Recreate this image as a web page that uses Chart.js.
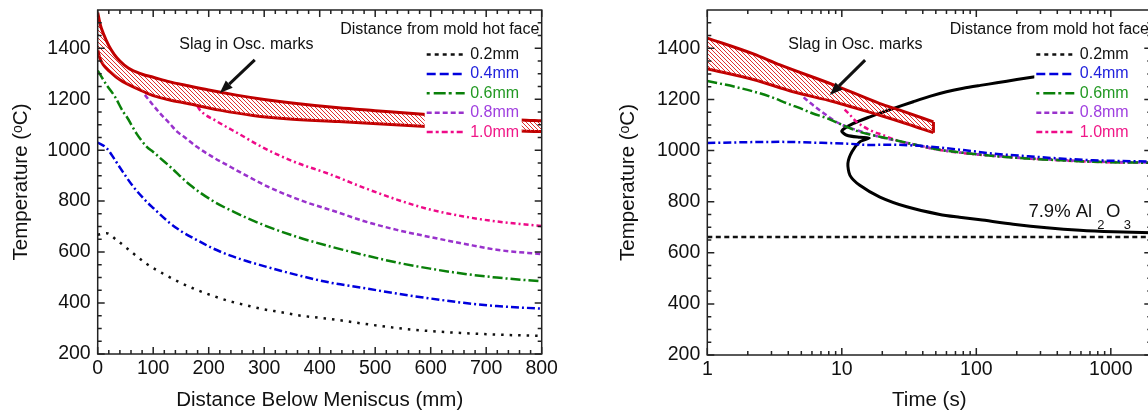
<!DOCTYPE html>
<html>
<head>
<meta charset="UTF-8">
<title>Mold flux temperature</title>
<style>
  html, body { margin: 0; padding: 0; background: #fff; overflow: hidden; }
  #wrap { position: relative; width: 1148px; height: 412px; }
  canvas { position: absolute; top: 0; }
  #left { left: 0; }
  #right { left: 574px; }
</style>
</head>
<body>
<div id="wrap">
  <canvas id="left" width="574" height="412"></canvas>
  <canvas id="right" width="580" height="412"></canvas>
</div>
<script src="https://cdn.jsdelivr.net/npm/chart.js"></script>
<script>
// ------------------------------ data ------------------------------
const seriesNames = ['0.2mm', '0.4mm', '0.6mm', '0.8mm', '1.0mm'];

// left: temperature vs distance below meniscus (mm)
const dist02 = [[0,668],[16,674],[32,651],[60,602],[88,554],[118,515],[148,481],[178,452],[208,428],[238,407],[268,391],[298,376],[331,364],[361,352],[400,342],[431,334],[479,319],[539,302],[599,290],[659,282],[719,276],[800,271]];
const dist04 = [[0,1030],[16,1008],[31,962],[40,932],[64,857],[88,798],[100,773],[130,714],[151,681],[178,648],[208,614],[238,587],[268,565],[298,546],[331,526],[361,509],[419,480],[479,459],[539,437],[599,418],[659,401],[719,388],[800,378]];
const dist06 = [[0,1312],[16,1256],[31,1210],[46,1150],[52,1132],[70,1065],[88,1014],[100,993],[112,970],[130,936],[166,864],[208,800],[250,753],[298,707],[357,661],[419,622],[479,589],[539,559],[599,535],[659,515],[719,500],[800,485]];
const dist08 = [[85,1217],[97,1184],[112,1145],[130,1104],[142,1075],[160,1045],[178,1014],[208,972],[232,943],[268,900],[310,853],[370,800],[434,755],[479,722],[539,687],[599,659],[659,633],[719,609],[800,592]];
const dist10 = [[180,1172],[184,1158],[214,1114],[256,1062],[298,1010],[352,956],[419,905],[479,853],[539,806],[599,767],[659,740],[719,720],[800,702]];
const slagDistTop = [[0,1540],[5,1490],[10,1459],[20,1410],[30,1375],[40,1350],[55,1322],[80,1298],[100,1286],[130,1268],[160,1254],[200,1236],[250,1216],[300,1199],[350,1185],[434,1166],[500,1155],[592,1140],[680,1128],[761,1118],[800,1115]];
const slagDistBottom = [[0,1393],[4,1361],[10,1335],[22,1308],[40,1276],[76,1236],[100,1214],[130,1197],[160,1184],[220,1157],[280,1136],[340,1123],[434,1112],[592,1093],[680,1083],[761,1075],[800,1073]];

// right: temperature vs time (s)
const time02 = [[1,662],[2000,662]];
const time04 = [[1,1030],[3.5,1034],[6,1031],[11,1027],[16,1022],[23,1023],[34,1020],[53,1012],[80,1002],[134,988],[237,978],[418,969],[741,962],[2000,957]];
const time06 = [[1,1272],[1.65,1248],[2.9,1212],[3.9,1185],[5.2,1160],[6.1,1145],[7.7,1127],[10.2,1099],[13.6,1073],[19.2,1054],[27,1037],[38,1019],[53.5,1003],[80,991],[134,979],[237,969],[418,962],[741,956],[2000,952]];
const time08 = [[5.2,1208],[6.1,1178],[7.3,1147],[8.6,1120],[10.2,1099],[12.9,1080],[16.2,1064],[20.3,1050],[27,1036],[38,1019],[53.5,1003],[80,991],[134,980],[237,970],[418,963],[741,957],[2000,953]];
const time10 = [[10.5,1160],[11.2,1146],[12.9,1112],[16.2,1080],[20.3,1060],[27,1036],[38,1018],[53.5,1002],[80,990],[134,979],[237,969],[418,962],[741,956],[2000,952]];
const slagTimeTop = [[1,1440],[2.2,1378],[3.47,1335],[8.6,1258],[19.2,1184],[27,1158],[48,1112]];
const slagTimeBottom = [[1,1320],[2.2,1278],[4.36,1230],[8.6,1192],[19.2,1138],[30,1106],[48,1070]];
const slagTimeEnd = [[48,1070],[48,1112]];
const alumina = [[281,1290],[200,1278],[142,1265],[107,1255],[80,1244],[60,1230],[45,1212],[34,1191],[22.8,1160],[16.2,1132],[12.2,1106],[10.0,1077],[10.9,1060],[13.6,1052],[16,1049],[13.6,1034],[11.9,995],[11.1,950],[11.5,903],[13.6,864],[19.2,818],[30.4,780],[53.5,750],[75,739],[107,729],[188,712],[334,698],[589,688],[1050,682],[2000,678]];

// axis ticks
const tempMajor = [200, 400, 600, 800, 1000, 1200, 1400];
const distMajor = [0, 100, 200, 300, 400, 500, 600, 700, 800];
const timeMajor = [1, 10, 100, 1000];
const tempMinor = [], distMinor = [], timeMinor = [];
for (let v = 250; v <= 1500; v += 50) if (v % 200) tempMinor.push(v);
for (let v = 20; v < 800; v += 20) if (v % 100) distMinor.push(v);
[1, 10, 100, 1000].forEach(d => { for (let k = 2; k <= 9; k++) if (d * k <= 2000) timeMinor.push(d * k); });

// ------------------------------ styles ------------------------------
const FONT = '"Liberation Sans", Arial, "DejaVu Sans", sans-serif';
Chart.defaults.font.family = FONT;
Chart.defaults.color = '#111';

const lineColors = ['#111111', '#0000dd', '#0a800a', '#9932cc', '#ee0a88'];
const textColors = ['#111111', '#2222dd', '#229922', '#a040e0', '#f01888'];
const lineDashes = [[2.5, 6], [8, 3, 2, 3], [10, 3, 2, 3], [5, 3], [5, 3, 2, 3]];
const legendDashes = [[4, 4], [9, 4], [3, 4, 12, 3], [5, 3], [6, 3, 3, 3]];
const slagRed = '#c00000';

function hatch() {
  const c = document.createElement('canvas');
  c.width = 4; c.height = 4;
  const g = c.getContext('2d');
  g.strokeStyle = '#e03030';
  g.lineWidth = 1;
  g.beginPath();
  g.moveTo(-1, -1); g.lineTo(5, 5);
  g.moveTo(-1, 3); g.lineTo(1, 5);
  g.moveTo(3, -1); g.lineTo(5, 1);
  g.stroke();
  return g.createPattern(c, 'repeat');
}

const pts = arr => arr.map(p => ({x: p[0], y: p[1]}));

function curve(i, arr, dash) {
  return {
    label: seriesNames[i], data: pts(arr), showLine: true, pointRadius: 0,
    borderColor: lineColors[i], borderWidth: 2.5, borderDash: dash || lineDashes[i],
    cubicInterpolationMode: 'monotone', fill: false
  };
}

function bandEdge(arr, fillNext) {
  return {
    label: 'slag', data: pts(arr), showLine: true, pointRadius: 0,
    borderColor: slagRed, borderWidth: 3, cubicInterpolationMode: 'monotone',
    fill: fillNext ? '+1' : false, backgroundColor: fillNext ? hatch() : 'transparent'
  };
}

// keep the plot box where the layout padding puts it
function noPad(s) {
  s.paddingTop = 0; s.paddingBottom = 0; s.paddingLeft = 0; s.paddingRight = 0;
}

// ------------------------------ plugins ------------------------------
// inward tick marks on all four sides plus the box around the plot
const framePlugin = {
  id: 'frame',
  afterDraw(chart, args, o) {
    const {ctx, chartArea: a, scales} = chart;
    ctx.save();
    ctx.strokeStyle = '#222';
    ctx.lineWidth = 1.5;
    const marks = (scale, values, len) => values.forEach(v => {
      const p = scale.getPixelForValue(v);
      ctx.beginPath();
      if (scale.isHorizontal()) {
        ctx.moveTo(p, a.bottom); ctx.lineTo(p, a.bottom - len);
        ctx.moveTo(p, a.top); ctx.lineTo(p, a.top + len);
      } else {
        ctx.moveTo(a.left, p); ctx.lineTo(a.left + len, p);
        ctx.moveTo(a.right, p); ctx.lineTo(a.right - len, p);
      }
      ctx.stroke();
    });
    marks(scales.x, o.xMajor, 7);
    marks(scales.x, o.xMinor, 4);
    marks(scales.y, tempMajor, 7);
    marks(scales.y, tempMinor, 4);
    ctx.strokeRect(a.left, a.top, a.right - a.left, a.bottom - a.top);
    ctx.restore();
  }
};

function arrow(ctx, x1, y1, x2, y2) {
  const ang = Math.atan2(y2 - y1, x2 - x1);
  const head = 13, half = 5;
  const bx = x2 - head * Math.cos(ang), by = y2 - head * Math.sin(ang);
  ctx.lineWidth = 3;
  ctx.beginPath(); ctx.moveTo(x1, y1); ctx.lineTo(bx, by); ctx.stroke();
  ctx.beginPath();
  ctx.moveTo(x2, y2);
  ctx.lineTo(bx + half * Math.sin(ang), by - half * Math.cos(ang));
  ctx.lineTo(bx - half * Math.sin(ang), by + half * Math.cos(ang));
  ctx.closePath(); ctx.fill();
}

// legend box, slag label with arrow, and the Al2O3 curve label
const notesPlugin = {
  id: 'notes',
  afterDatasetsDraw(chart, args, o) {
    const {ctx, chartArea: a, scales: {x, y}} = chart;
    const R = a.right;
    ctx.save();
    ctx.fillStyle = '#fff';
    ctx.fillRect(R - 117, a.top + 34, 97, 98);
    ctx.textBaseline = 'middle';
    ctx.font = '16px ' + FONT;
    ctx.fillStyle = '#111';
    ctx.fillText('Distance from mold hot face', R - 201.5, a.top + 20);
    seriesNames.forEach((name, i) => {
      const yy = a.top + 44.5 + i * 19.4;
      ctx.strokeStyle = lineColors[i];
      ctx.lineWidth = 2.5;
      ctx.setLineDash(legendDashes[i]);
      ctx.beginPath(); ctx.moveTo(R - 115, yy); ctx.lineTo(R - 77, yy); ctx.stroke();
      ctx.setLineDash([]);
      ctx.fillStyle = textColors[i];
      ctx.fillText(name, R - 71.5, yy);
    });

    ctx.fillStyle = '#111';
    ctx.strokeStyle = '#111';
    ctx.fillText('Slag in Osc. marks', x.getPixelForValue(o.slagText[0]), y.getPixelForValue(o.slagText[1]));
    arrow(ctx, x.getPixelForValue(o.arrowFrom[0]), y.getPixelForValue(o.arrowFrom[1]),
      x.getPixelForValue(o.arrowTo[0]), y.getPixelForValue(o.arrowTo[1]));

    if (o.alText) {
      let px = x.getPixelForValue(o.alText[0]);
      const py = y.getPixelForValue(o.alText[1]);
      ctx.textBaseline = 'alphabetic';
      const big = '18.5px ' + FONT, small = '13px ' + FONT;
      ctx.font = big; ctx.fillText('7.9% Al', px, py); px += ctx.measureText('7.9% Al').width + 5;
      ctx.font = small; ctx.fillText('2', px, py + 11.5); px += ctx.measureText('2').width + 1.5;
      ctx.font = big; ctx.fillText('O', px, py); px += ctx.measureText('O').width + 3.5;
      ctx.font = small; ctx.fillText('3', px, py + 11.5);
    }
    ctx.restore();
  }
};

// ------------------------------ charts ------------------------------
const axisTitleFont = {size: 20.5, lineHeight: 1.1};

function tempAxis(width, titlePad) {
  return {
    type: 'linear', min: 200, max: 1550,
    afterFit: s => { s.width = width; noPad(s); },
    ticks: {
      stepSize: 200, includeBounds: false, padding: 7,
      font: {size: 19.5}, color: '#111',
      callback: v => String(v)
    },
    grid: {display: false, drawTicks: false},
    border: {display: false},
    title: {display: true, text: 'Temperature (ᵒC)', font: {size: 20.5}, color: '#111', padding: {top: titlePad}}
  };
}

const leftChart = new Chart(document.getElementById('left'), {
  type: 'scatter',
  data: {
    datasets: [
      bandEdge(slagDistTop, true),
      bandEdge(slagDistBottom, false),
      curve(0, dist02), curve(1, dist04), curve(2, dist06), curve(3, dist08), curve(4, dist10)
    ]
  },
  options: {
    responsive: false, animation: false, devicePixelRatio: 1,
    layout: {padding: {left: 0, right: 32.3, top: 10, bottom: 0}},
    plugins: {
      legend: {display: false}, tooltip: {enabled: false},
      frame: {xMajor: distMajor, xMinor: distMinor},
      notes: {slagText: [147, 1413], arrowFrom: [283, 1354], arrowTo: [220, 1224]}
    },
    scales: {
      x: {
        type: 'linear', min: 0, max: 800,
        afterFit: s => { s.height = 58; noPad(s); },
        ticks: {stepSize: 100, padding: 3, font: {size: 19.5}, color: '#111', maxRotation: 0, autoSkip: false},
        grid: {display: false, drawTicks: false},
        border: {display: false},
        title: {display: true, text: 'Distance Below Meniscus (mm)', font: axisTitleFont, color: '#111', padding: {bottom: 0}}
      },
      y: tempAxis(97.7, 8.7)
    }
  },
  plugins: [framePlugin, notesPlugin]
});

const rightChart = new Chart(document.getElementById('right'), {
  type: 'scatter',
  data: {
    datasets: [
      bandEdge(slagTimeTop, true),
      bandEdge(slagTimeBottom, false),
      bandEdge(slagTimeEnd, false),
      curve(0, time02, [5, 3.5]), curve(1, time04), curve(2, time06), curve(3, time08), curve(4, time10),
      {
        label: '7.9% Al2O3', data: pts(alumina), showLine: true, pointRadius: 0,
        borderColor: '#000', borderWidth: 3, tension: 0.25, fill: false
      }
    ]
  },
  options: {
    responsive: false, animation: false, devicePixelRatio: 1,
    layout: {padding: {left: 0, right: 2.7, top: 10, bottom: 0}},
    plugins: {
      legend: {display: false}, tooltip: {enabled: false},
      frame: {xMajor: timeMajor, xMinor: timeMinor},
      notes: {slagText: [4.0, 1413], arrowFrom: [14.9, 1354], arrowTo: [8.15, 1217], alText: [244, 740]}
    },
    scales: {
      x: {
        type: 'logarithmic', min: 1, max: 2000,
        afterFit: s => { s.height = 57; noPad(s); },
        ticks: {
          padding: 3, font: {size: 19.5}, color: '#111', maxRotation: 0, autoSkip: false,
          callback: v => (timeMajor.includes(v) ? String(v) : '')
        },
        grid: {display: false, drawTicks: false},
        border: {display: false},
        title: {display: true, text: 'Time (s)', font: axisTitleFont, color: '#111', padding: {bottom: 0}}
      },
      y: tempAxis(133.3, 41.7)
    }
  },
  plugins: [framePlugin, notesPlugin]
});
</script>
</body>
</html>
